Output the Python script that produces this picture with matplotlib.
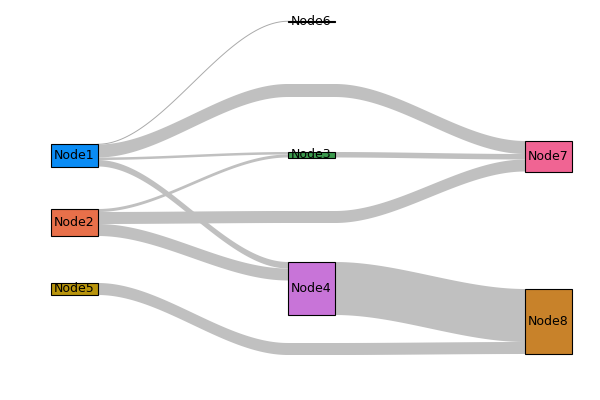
import matplotlib
matplotlib.use("Agg")
import matplotlib.pyplot as plt
import numpy as np
from matplotlib.patches import Rectangle, Polygon

nodes = ["Node1", "Node2", "Node5", "Node6", "Node3", "Node4", "Node7", "Node8"]
colors = ["#0a8cf5", "#e8704a", "#b8940c", "#222222", "#3c9a4e", "#c874d8", "#f06493", "#c8822a"]
sources = ["Node1", "Node1", "Node1", "Node1", "Node3", "Node4", "Node2", "Node2", "Node2", "Node5"]
targets = ["Node6", "Node7", "Node3", "Node4", "Node7", "Node8", "Node3", "Node7", "Node4", "Node8"]
values = [0.5, 13, 2.5, 6.5, 5.5, 53, 3, 12, 12, 12]

# layout (pixels)
col = {"Node1": 0, "Node2": 0, "Node5": 0, "Node6": 1, "Node3": 1, "Node4": 1, "Node7": 2, "Node8": 2}
top = {"Node1": 144, "Node2": 209, "Node5": 283, "Node6": 21, "Node3": 152, "Node4": 262, "Node7": 141, "Node8": 289}
colx = [51, 288, 525]
nw = 47
# routing of links that skip the middle column: top y of band there
via = {("Node1", "Node7"): 84, ("Node2", "Node7"): 211, ("Node5", "Node8"): 343}

fig = plt.figure(figsize=(6, 4), dpi=100)
ax = fig.add_axes([0, 0, 1, 1])
ax.set_xlim(0, 600); ax.set_ylim(400, 0); ax.axis("off")

inn = {n: 0.0 for n in nodes}; out = {n: 0.0 for n in nodes}
for s, t, v in zip(sources, targets, values):
    out[s] += v; inn[t] += v
height = {n: max(inn[n], out[n]) for n in nodes}
ocur = dict(top); icur = dict(top)


def seg(x0, x1, y0, y1):
    xs = np.linspace(x0, x1, 80)
    u = (xs - x0) / (x1 - x0)
    return xs, y0 + (y1 - y0) * (3 * u**2 - 2 * u**3)


for s, t, v in zip(sources, targets, values):
    x0 = colx[col[s]] + nw; x1 = colx[col[t]]
    y0 = ocur[s]; y1 = icur[t]
    ocur[s] += v; icur[t] += v
    if (s, t) in via:
        ym = via[(s, t)]
        a = seg(x0, colx[1], y0, ym)
        b = seg(colx[1] + nw, x1, ym, y1)
        xs = np.concatenate([a[0], b[0]]); ytop = np.concatenate([a[1], b[1]])
    else:
        xs, ytop = seg(x0, x1, y0, y1)
    if v < 1:
        ax.plot(xs, ytop + v / 2, color="#aaaaaa", lw=0.7, zorder=1)
        continue
    ybot = ytop + v
    pts = np.vstack([np.column_stack([xs, ytop]), np.column_stack([xs[::-1], ybot[::-1]])])
    ax.add_patch(Polygon(pts, closed=True, facecolor="#c0c0c0", edgecolor="none", zorder=1))

for n, c in zip(nodes, colors):
    h = max(height[n], 1)
    x = colx[col[n]]
    ax.add_patch(Rectangle((x, top[n]), nw, h, facecolor=c, edgecolor="black", lw=0.8, zorder=2))
    ax.text(x + nw / 2, top[n] + h / 2, n, ha="center", va="center", fontsize=9, color="black", zorder=3)

fig.savefig("out.png", dpi=100)
